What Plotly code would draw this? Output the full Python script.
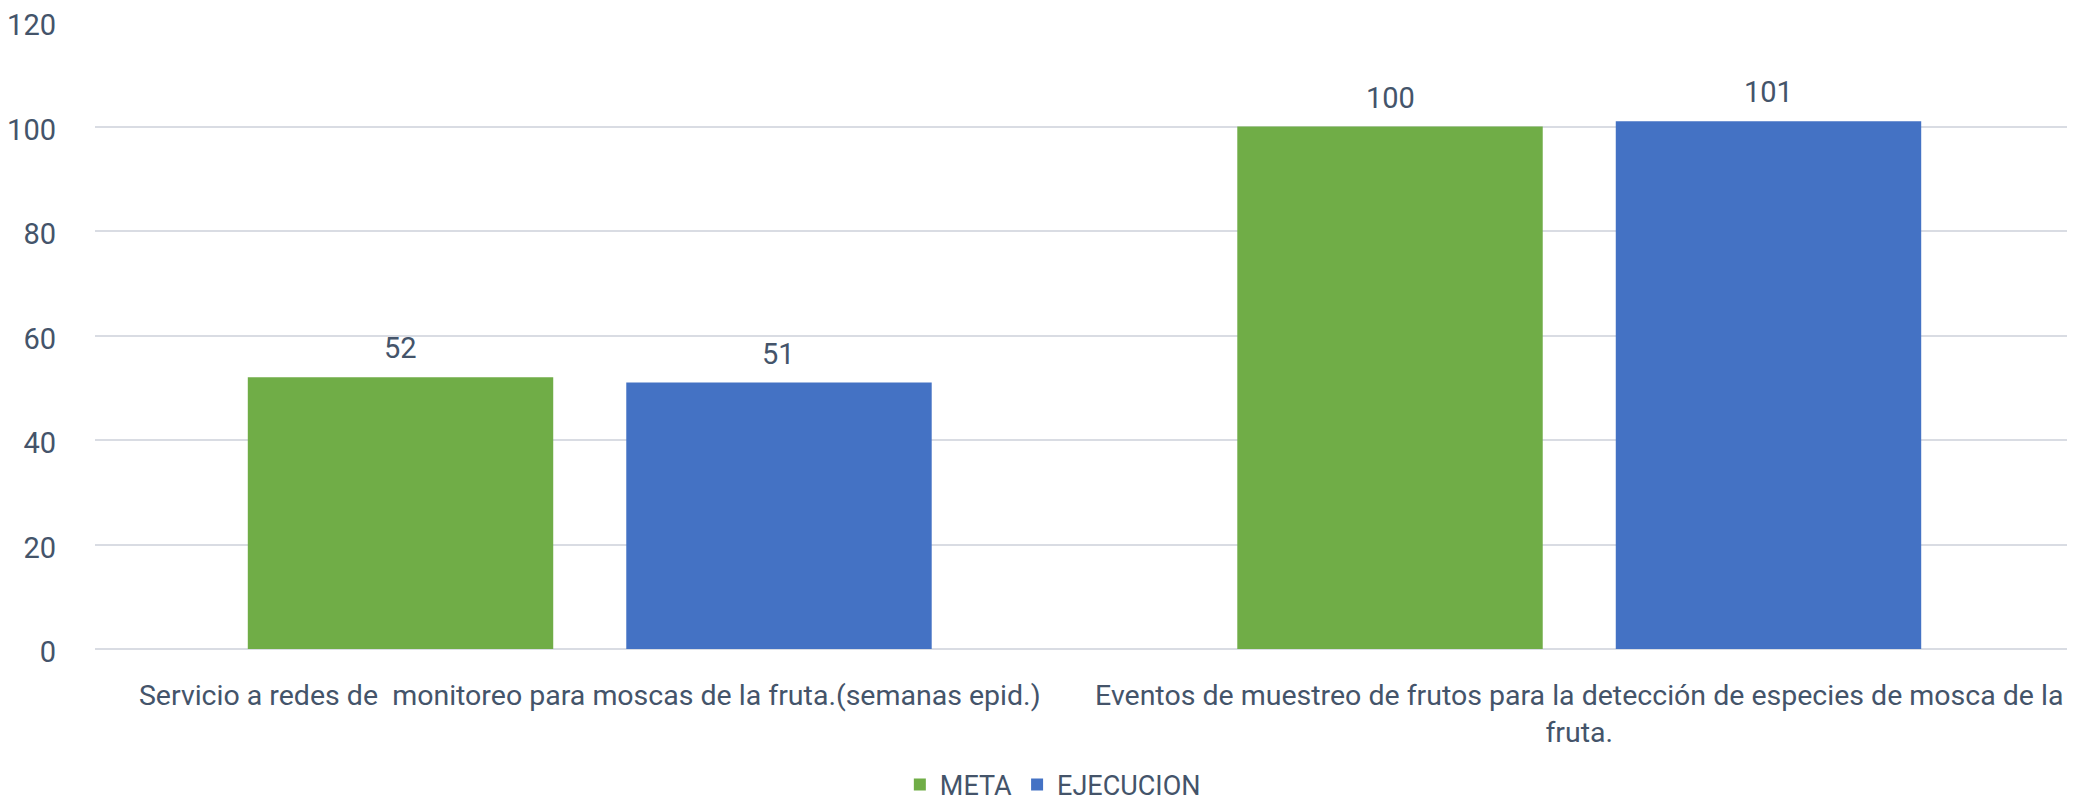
import plotly.graph_objects as go

categories = [
    "Servicio a redes de  monitoreo para moscas de la fruta.(semanas epid.)",
    "Eventos de muestreo de frutos para la detección de especies de mosca de la<br>fruta.",
]
meta = [52, 100]
ejecucion = [51, 101]
y_ticks = [0, 20, 40, 60, 80, 100, 120]

FONT = "Roboto, Liberation Sans, sans-serif"
TXT = "#44546A"
FS = 29
BARGAP = 0.235
SLOT_HALF = (1 - BARGAP) / 4  # centre offset of each bar within its group

fig = go.Figure()
series = [("META", meta, "#70AD47", -SLOT_HALF), ("EJECUCION", ejecucion, "#4472C4", SLOT_HALF)]
for name, vals, color, off in series:
    fig.add_trace(go.Bar(
        name=name, x=categories, y=vals,
        marker=dict(color=color, line=dict(width=0)),
    ))
    for j, v in enumerate(vals):
        fig.add_annotation(
            x=j + off, y=v, xref="x", yref="y", text=str(v), showarrow=False,
            yanchor="middle", yshift=29, font=dict(size=FS, color=TXT, family=FONT),
        )

fig.update_layout(
    width=2067, height=795,
    margin=dict(l=87, r=1, t=14, b=154, autoexpand=False),
    paper_bgcolor="white", plot_bgcolor="white",
    barmode="group", bargap=BARGAP, bargroupgap=0.193,
    font=dict(family=FONT, size=FS, color=TXT),
    showlegend=True,
    legend=dict(orientation="h", x=0.484, xanchor="center", y=-0.217, yanchor="middle",
                font=dict(size=27, color=TXT), itemwidth=30, traceorder="normal"),
    xaxis=dict(showgrid=False, showline=False, ticks="", automargin=False,
               ticklabelstandoff=26, tickfont=dict(size=28.5, color=TXT)),
    yaxis=dict(range=[0, 120], tickvals=y_ticks, showgrid=True, gridcolor="#D9DCE3", gridwidth=2,
               zeroline=True, zerolinecolor="#D9DCE3", zerolinewidth=2, showline=False, ticks="",
               automargin=False, ticklabelstandoff=38, ticklabeloverflow="allow",
               ticklabelshift=3, tickfont=dict(size=FS, color=TXT)),
)

fig.write_html("out.html")
